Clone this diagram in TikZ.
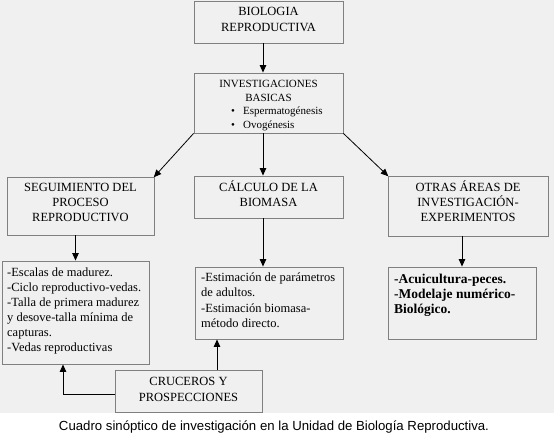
\documentclass[tikz,border=0pt]{standalone}
\usepackage{fontspec}
\setmainfont{Liberation Serif}
\newfontfamily\capfont{Liberation Sans}
\usetikzlibrary{arrows.meta}
\definecolor{bg}{HTML}{F0F0F0}
\definecolor{edge}{HTML}{808080}
\newcommand\mylines[2]{\begin{tabular}[t]{@{}#1@{}}#2\end{tabular}}
\begin{document}
\begin{tikzpicture}[x=1pt,y=-1pt,
  box/.style={draw=edge, line width=0.9pt, fill=bg, inner sep=0pt},
  txt/.style={inner sep=0pt, anchor=base, font=\rmfamily\fontsize{12.5}{15}\selectfont},
  small/.style={inner sep=0pt, anchor=base, font=\rmfamily\fontsize{11}{13.5}\selectfont},
  arr/.style={draw=black, line width=0.8pt, -{Triangle[length=7.5pt,width=6.5pt]}}]
\useasboundingbox (0,0) rectangle (554,441);
\fill[white] (0,0) rectangle (554,441);
\fill[bg] (0,0) rectangle (554,413);
% boxes
\node[box, minimum width=149pt, minimum height=42pt] (bio) at (268.5,22) {};
\node[box, minimum width=149pt, minimum height=60pt] (inv) at (268.5,103) {};
\node[box, minimum width=147pt, minimum height=58pt] (seg) at (80.5,206) {};
\node[box, minimum width=149pt, minimum height=42pt] (calc) at (268.5,197) {};
\node[box, minimum width=160pt, minimum height=60pt] (otr) at (468,206) {};
\node[box, minimum width=147pt, minimum height=103pt] (esc) at (75.5,312.5) {};
\node[box, minimum width=148pt, minimum height=72pt] (est) at (269,303) {};
\node[box, minimum width=148pt, minimum height=72pt] (acu) at (462,303) {};
\node[box, minimum width=147pt, minimum height=42pt] (cru) at (188.5,391) {};
% texts
\node[txt, font=\rmfamily\fontsize{12.5}{16}\selectfont] (tbio) at (268.5,16) {\mylines{c}{BIOLOGIA\\REPRODUCTIVA}};
\node[small] (tinv) at (268.5,88) {\mylines{c}{INVESTIGACIONES\\BASICAS}};
\node[small, anchor=base west] (tbul) at (231,115) {\mylines{l}{\makebox[12pt][l]{\textbullet}Espermatogénesis\\\makebox[12pt][l]{\textbullet}Ovogénesis}};
\node[txt] (tseg) at (80.5,191.5) {\mylines{c}{SEGUIMIENTO DEL\\PROCESO\\REPRODUCTIVO}};
\node[txt, font=\rmfamily\fontsize{12.5}{15.5}\selectfont] (tcalc) at (268.5,191) {\mylines{c}{CÁLCULO DE LA\\BIOMASA}};
\node[txt] (totr) at (468,191.5) {\mylines{c}{OTRAS ÁREAS DE\\INVESTIGACIÓN-\\EXPERIMENTOS}};
\node[txt, anchor=base west] (tesc) at (7,276) {\mylines{l}{-Escalas de madurez.\\-Ciclo reproductivo-vedas.\\-Talla de primera madurez\\y desove-talla mínima de\\capturas.\\-Vedas reproductivas}};
\node[txt, anchor=base west, font=\rmfamily\fontsize{12.5}{15.5}\selectfont] (test) at (201,281) {\mylines{l}{-Estimación de parámetros\\de adultos.\\-Estimación biomasa-\\método directo.}};
\node[txt, anchor=base west, font=\rmfamily\fontsize{13.5}{15}\selectfont\bfseries] (tacu) at (394,283) {\mylines{l}{-Acuicultura-peces.\\-Modelaje numérico-\\Biológico.}};
\node[txt, font=\rmfamily\fontsize{12.5}{16}\selectfont] (tcru) at (188.5,385) {\mylines{c}{CRUCEROS Y\\PROSPECCIONES}};
\node[inner sep=0pt, anchor=base, font=\capfont\fontsize{13.2}{15}\selectfont] (cap) at (274,430) {Cuadro sinóptico de investigación en la Unidad de Biología Reproductiva.};
% connectors
\coordinate (m) at (263,0);
\coordinate (l) at (63,394);
\coordinate (u) at (217,0);
\draw[arr] (bio.south -| m) -- (inv.north -| m);
\draw[arr, shorten >=-1pt] (inv.south west) -- (seg.north east);
\draw[arr] (inv.south -| m) -- (calc.north -| m);
\draw[arr, shorten >=-1pt] (inv.south east) -- (otr.north west);
\draw[arr] (seg.south -| esc.north) -- (esc.north);
\draw[arr] (calc.south -| m) -- (est.north -| m);
\draw[arr] (otr.south -| acu.north) -- (acu.north);
\draw[arr] (cru.west |- l) -- (l) -- (esc.south -| l);
\draw[arr] (cru.north -| u) -- (est.south -| u);
\end{tikzpicture}
\end{document}
